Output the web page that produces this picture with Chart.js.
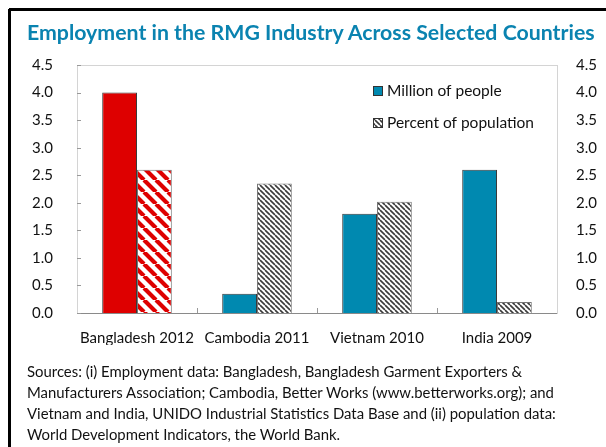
<!DOCTYPE html>
<html>
<head>
<meta charset="utf-8">
<script src="https://cdn.jsdelivr.net/npm/chart.js@4.4.1/dist/chart.umd.min.js"></script>
<style>
  html, body { margin: 0; padding: 0; background: #fff; width: 606px; height: 447px; overflow: hidden; }
  #wrap { position: absolute; left: 0; top: 0; width: 606px; height: 447px; }
  #title { position: absolute; left: 27px; top: 19px; font-family: Lato, sans-serif; font-weight: bold; font-size: 21.3px; color: #0A83B0; white-space: nowrap; }
  #sources { position: absolute; left: 27px; top: 361px; font-family: Lato, sans-serif; font-size: 14.9px; line-height: 21px; color: #111; white-space: nowrap; }
</style>
</head>
<body>
<div id="wrap"><canvas id="chart"></canvas></div>
<div id="title">Employment in the RMG Industry Across Selected Countries</div>
<div id="sources">
  Sources: (i) Employment data: Bangladesh, Bangladesh Garment Exporters &amp;<br>
  Manufacturers Association; Cambodia, Better Works (www.betterworks.org); and<br>
  Vietnam and India, UNIDO Industrial Statistics Data Base and (ii) population data:<br>
  World Development Indicators, the World Bank.
</div>
<script>
const categories = ["Bangladesh 2012", "Cambodia 2011", "Vietnam 2010", "India 2009"];
const millionOfPeople = [4.0, 0.35, 1.8, 2.6];
const percentOfPopulation = [2.6, 2.35, 2.02, 0.2];
const yMin = 0;
const yMax = 4.5;
const yStep = 0.5;

const RED = "#DE0000";
const BLUE = "#0089B0";

// diagonal "\" stripes for the percent bars
function makeHatch(size, color, width) {
  const c = document.createElement("canvas");
  c.width = size;
  c.height = size;
  const g = c.getContext("2d");
  g.fillStyle = "#fff";
  g.fillRect(0, 0, size, size);
  g.strokeStyle = color;
  g.lineWidth = width;
  g.beginPath();
  for (const k of [-size, 0, size]) {
    g.moveTo(k, 0);
    g.lineTo(k + size, size);
  }
  g.stroke();
  return g.createPattern(c, "repeat");
}

const ctx = document.getElementById("chart").getContext("2d");
const redHatch = makeHatch(12, RED, 4.2);
const grayHatch = makeHatch(5, "#3a3a3a", 1.6);

const tickFont = { family: "Lato, sans-serif", size: 15 };

// black frame along the top and left edges of the figure
const framePlugin = {
  id: "frame",
  afterDraw(chart) {
    const c = chart.ctx;
    c.save();
    c.fillStyle = "#000";
    c.fillRect(9, 8, chart.width - 9, 3);
    c.fillRect(8, 9, 3, chart.height - 9);
    c.restore();
  },
};

const legendPlugin = {
  id: "insideLegend",
  afterDraw(chart) {
    const { ctx, chartArea } = chart;
    const items = [
      { label: "Million of people", fill: BLUE },
      { label: "Percent of population", fill: grayHatch },
    ];
    ctx.save();
    ctx.font = "15.5px Lato, sans-serif";
    ctx.textBaseline = "middle";
    items.forEach((it, i) => {
      const x = chartArea.right - 184;
      const y = chartArea.top + 26 + i * 32;
      ctx.fillStyle = it.fill;
      ctx.fillRect(x, y - 5, 10, 10);
      ctx.strokeStyle = "#333";
      ctx.lineWidth = 1;
      ctx.strokeRect(x + 0.5, y - 4.5, 9, 9);
      ctx.fillStyle = "#111";
      ctx.fillText(it.label, x + 14, y);
    });
    ctx.restore();
  },
};

// short ticks drawn on the inside of the plot frame
const innerTicks = {
  id: "innerTicks",
  afterDatasetsDraw(chart) {
    const { ctx, chartArea, scales } = chart;
    ctx.save();
    ctx.strokeStyle = "#999";
    ctx.lineWidth = 1;
    ctx.beginPath();
    for (let v = yMin; v <= yMax + 1e-9; v += yStep) {
      const y = Math.round(scales.y.getPixelForValue(v)) + 0.5;
      ctx.moveTo(chartArea.left, y);
      ctx.lineTo(chartArea.left + 4, y);
    }
    for (let i = 1; i < categories.length; i++) {
      const x = Math.round((scales.x.getPixelForValue(i - 1) + scales.x.getPixelForValue(i)) / 2) + 0.5;
      ctx.moveTo(x, chartArea.bottom);
      ctx.lineTo(x, chartArea.bottom - 5);
    }
    ctx.stroke();
    ctx.restore();
  },
};

const topLine = {
  id: "topLine",
  beforeDatasetsDraw(chart) {
    const { ctx, chartArea } = chart;
    ctx.save();
    ctx.strokeStyle = "#d4d4d4";
    ctx.lineWidth = 1;
    ctx.beginPath();
    ctx.moveTo(chartArea.left, chartArea.top + 0.5);
    ctx.lineTo(chartArea.right, chartArea.top + 0.5);
    ctx.stroke();
    ctx.restore();
  },
};

const chart = new Chart(ctx, {
  type: "bar",
  data: {
    labels: categories,
    datasets: [
      {
        label: "Million of people",
        data: millionOfPeople,
        backgroundColor: categories.map((c, i) => (i === 0 ? RED : BLUE)),
        borderColor: "#3a3a3a",
        borderWidth: 1,
        borderSkipped: "bottom",
        categoryPercentage: 0.58,
        barPercentage: 1.0,
        yAxisID: "y",
      },
      {
        label: "Percent of population",
        data: percentOfPopulation,
        backgroundColor: categories.map((c, i) => (i === 0 ? redHatch : grayHatch)),
        borderColor: "#777",
        borderWidth: 1,
        borderSkipped: "bottom",
        categoryPercentage: 0.58,
        barPercentage: 1.0,
        yAxisID: "y",
      },
    ],
  },
  options: {
    responsive: true,
    maintainAspectRatio: false,
    animation: false,
    layout: { padding: { top: 65, left: 0, right: 0, bottom: 102 } },
    plugins: {
      legend: { display: false },
      tooltip: { enabled: false },
    },
    scales: {
      x: {
        grid: { display: false },
        border: { display: true, color: "#8a8a8a", width: 1 },
        ticks: { color: "#111", font: tickFont, padding: 8, maxRotation: 0 },
        afterFit: (s) => { s.height = 32; },
      },
      y: {
        position: "left",
        min: yMin,
        max: yMax,
        grid: { display: false },
        border: { display: true, color: "#d4d4d4", width: 1 },
        ticks: {
          stepSize: yStep,
          color: "#111",
          font: tickFont,
          padding: 16,
          callback: (v) => v.toFixed(1),
        },
        afterFit: (s) => { s.width = 77; },
      },
      y2: {
        position: "right",
        min: yMin,
        max: yMax,
        grid: { display: false },
        border: { display: true, color: "#d4d4d4", width: 1 },
        ticks: {
          stepSize: yStep,
          color: "#111",
          font: tickFont,
          padding: 11,
          callback: (v) => v.toFixed(1),
        },
        afterFit: (s) => { s.width = 49; },
      },
    },
  },
  plugins: [framePlugin, legendPlugin, innerTicks, topLine],
});
</script>
</body>
</html>
